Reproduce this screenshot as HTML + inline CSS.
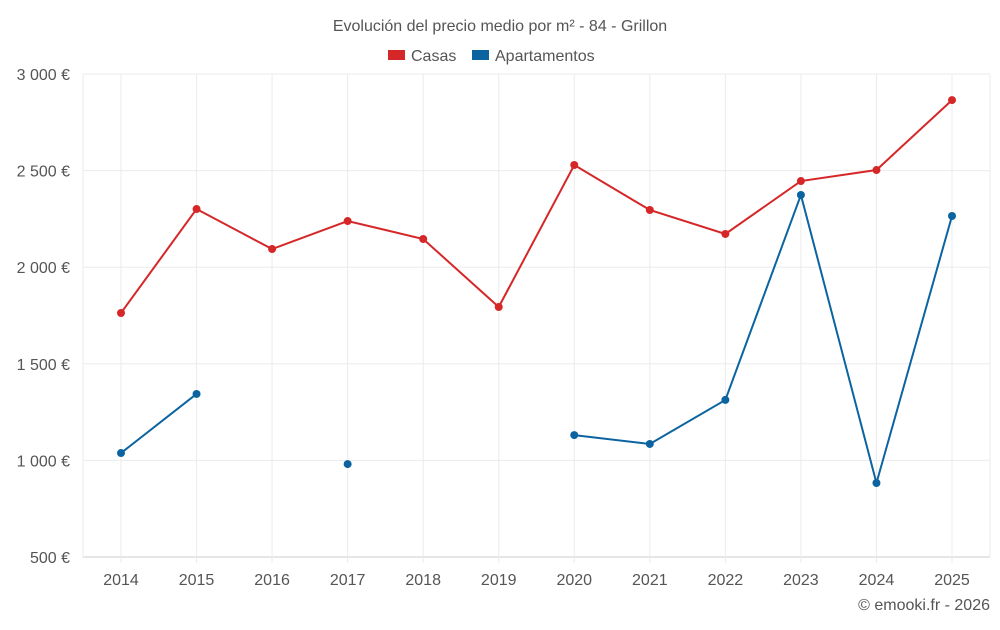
<!DOCTYPE html>
<html><head><meta charset="utf-8"><style>
body{margin:0;background:#fff;font-family:"Liberation Sans",sans-serif;}
svg text{font-family:"Liberation Sans",sans-serif;}
</style></head><body>
<svg id="chart" width="1000" height="625" xmlns="http://www.w3.org/2000/svg">
<text x="500" y="31" text-anchor="middle" font-size="16" fill="#555">Evolución del precio medio por m² - 84 - Grillon</text>
<g>
<rect x="388" y="50" width="17" height="10" fill="#d62728"/>
<text x="411" y="61" font-size="16" fill="#555">Casas</text>
<rect x="472" y="50" width="17" height="10" fill="#0b64a0"/>
<text x="495" y="61" font-size="16" fill="#555">Apartamentos</text>
</g>
<g id="grid"></g><g id="axes"></g><g id="series"></g>
<text x="990" y="610" text-anchor="end" font-size="16" fill="#555">© emooki.fr - 2026</text>
</svg>
<script>
const years=[2014,2015,2016,2017,2018,2019,2020,2021,2022,2023,2024,2025];
const casas=[1763,2301,2094,2239,2146,1794,2529,2296,2172,2446,2503,2865];
const apartamentos=[1038,1344,null,981,null,null,1131,1085,1313,2374,883,2265];
const yTicks=[500,1000,1500,2000,2500,3000];
const yLabels=["500 €","1 000 €","1 500 €","2 000 €","2 500 €","3 000 €"];
const NS="http://www.w3.org/2000/svg";
const L=83,R=990,T=74,B=557;
const x=i=>121+i*(952-121)/(years.length-1);
const y=v=>B-(v-500)/(3000-500)*(B-T);
function mk(tag,attrs,parent){const e=document.createElementNS(NS,tag);for(const k in attrs)e.setAttribute(k,attrs[k]);document.getElementById(parent).appendChild(e);return e;}
yTicks.forEach((t,i)=>{
 const g=mk('line',{x1:L,x2:R,y1:y(t),y2:y(t),stroke:i===0?'#ccc':'#ebebeb'},'grid');
 
 
 const tx=mk('text',{x:70,y:y(t)+6,'text-anchor':'end','font-size':'16',fill:'#555'},'axes');
 tx.textContent=yLabels[i];
 
 
});
[L,R].forEach(xx=>{const g=mk('line',{x1:xx,x2:xx,y1:T,y2:B,stroke:'#ebebeb'},'grid');
 
 });
years.forEach((yr,i)=>{
 const g=mk('line',{x1:x(i),x2:x(i),y1:T,y2:B+6,stroke:'#ebebeb'},'grid');
 
 
 const tx=mk('text',{x:x(i),y:585,'text-anchor':'middle','font-size':'16',fill:'#555'},'axes');
 tx.textContent=yr;
 
 
});
function drawSeries(data,color,name){
 let segs=[],cur=[];
 data.forEach((v,i)=>{if(v==null){if(cur.length)segs.push(cur);cur=[];}else cur.push([x(i),y(v)]);});
 if(cur.length)segs.push(cur);
 segs.forEach(s=>{if(s.length>1){const p=mk('polyline',{points:s.map(q=>q.join(',')).join(' '),fill:'none',stroke:color,'stroke-width':2},'series');
  
  }});
 data.forEach((v,i)=>{if(v==null)return;const c=mk('circle',{cx:x(i),cy:y(v),r:4,fill:color},'series');
  
  });
}
drawSeries(casas,'#d62728','casas');
drawSeries(apartamentos,'#0b64a0','apartamentos');
</script>
</body></html>
